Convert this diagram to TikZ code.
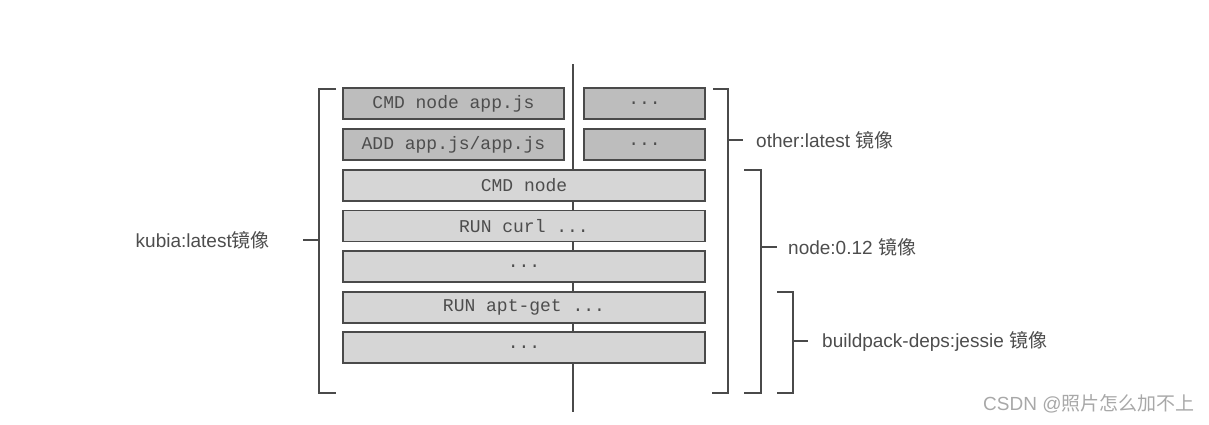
\documentclass[tikz,border=0pt]{standalone}
\usepackage{fontspec}
\setmainfont{Liberation Sans}
\setmonofont{Liberation Mono}
\newfontfamily\cjk{Noto Sans CJK SC}
\usetikzlibrary{positioning}
\definecolor{boxdark}{HTML}{BDBDBD}
\definecolor{boxlight}{HTML}{D6D6D6}
\definecolor{linegray}{HTML}{4A4A4A}
\definecolor{txtgray}{HTML}{4D4D4D}
\definecolor{markgray}{HTML}{A8A8A8}

\begin{document}
\begin{tikzpicture}[x=1pt,y=-1pt,
        layer/.style={draw=linegray, line width=1.4pt, minimum height=31pt,
            inner sep=0pt, font=\ttfamily\fontsize{18}{18}\selectfont, text=txtgray},
        upper/.style={layer, fill=boxdark},
        lower/.style={layer, fill=boxlight, minimum width=362pt},
        bracket/.style={draw=linegray, line width=1.4pt},
        lbl/.style={font=\fontsize{19}{20}\selectfont, text=txtgray, inner sep=0pt}
    ]
        \useasboundingbox (0,0) rectangle (1209,424);
        \begin{scope}
            % middle line behind the layers
            \coordinate (midtop) at (573,64);
            \coordinate (midbot) at (573,412);
            \draw [bracket] (midtop) -- (midbot);
            % layers
            \node [upper, minimum width=221pt] (cmdapp) at (453.5,103.5) {CMD node app.js};
            \node [upper, minimum width=221pt] (addapp) at (453.5,144.5) {ADD app.js/app.js};
            \node [upper, minimum width=121pt] (otherA) at (644.5,103.5) {...};
            \node [upper, minimum width=121pt] (otherB) at (644.5,144.5) {...};
            \node [lower] (cmdnode) at (524,185.5) {CMD node};
            \node [lower] (runcurl) at (524,226) {RUN curl ...};
            \node [lower] (nodedots) at (524,266.5) {...};
            \node [lower] (runapt) at (524,307.5) {RUN apt-get ...};
            \node [lower] (debdots) at (524,347.5) {...};
        \end{scope}
        \begin{scope}
            % kubia bracket (left)
            \draw [bracket] (336,89) -- (319,89) -- (319,393) -- (336,393);
            \coordinate (kubiatick) at (319,240);
            \coordinate (kubiaend) at (303,240);
            \node [lbl, left=33pt of kubiaend] (kubia) {kubia:latest{\cjk 镜像}};
            \draw [bracket] (kubiatick) -- (kubiaend);
            % other bracket
            \draw [bracket] (713,89) -- (728,89) -- (728,393) -- (712,393);
            \coordinate (othertick) at (728,140);
            \node [lbl, right=28pt of othertick] (other) {other:latest {\cjk 镜像}};
            \draw [bracket] (othertick) -- ([xshift=-13pt]other.west);
            % node bracket
            \draw [bracket] (744,170) -- (761,170) -- (761,393) -- (744,393);
            \coordinate (nodetick) at (761,247);
            \node [lbl, right=27pt of nodetick] (nodeimg) {node:0.12 {\cjk 镜像}};
            \draw [bracket] (nodetick) -- ([xshift=-11pt]nodeimg.west);
            % buildpack bracket
            \draw [bracket] (777,292) -- (793,292) -- (793,393) -- (777,393);
            \coordinate (bptick) at (793,341);
            \node [lbl, right=29pt of bptick] (bpimg) {buildpack-deps:jessie {\cjk 镜像}};
            \draw [bracket] (bptick) -- ([xshift=-14pt]bpimg.west);
        \end{scope}
        \node [lbl, text=markgray, anchor=west] (mark) at (983,404) {CSDN @{\cjk 照片怎么加不上}};
    \end{tikzpicture}
\end{document}
